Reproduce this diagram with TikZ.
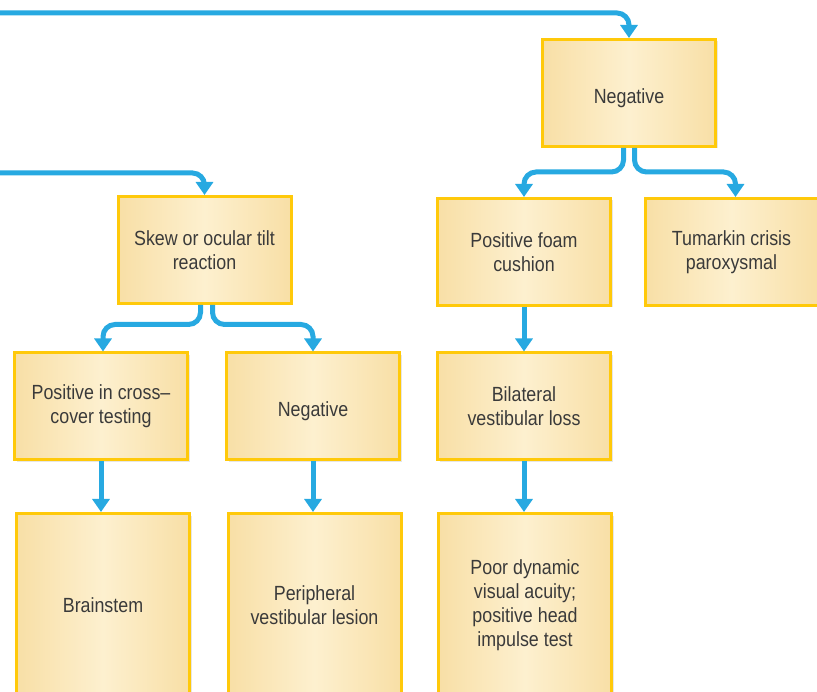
\documentclass[tikz,border=0pt]{standalone}
\usepackage{fontspec}
\setmainfont{Liberation Sans}[FakeStretch=0.87]
\usetikzlibrary{arrows.meta,shadows}
\definecolor{boxline}{HTML}{FFC90A}
\definecolor{boxedge}{HTML}{F8DFA6}
\definecolor{boxmid}{HTML}{FDF0CF}
\definecolor{linkblue}{HTML}{27A9E1}
\definecolor{boxtext}{HTML}{3A3A3A}
\tikzset{
	box/.style={draw=boxline, line width=3pt, left color=boxedge, right color=boxedge, middle color=boxmid,
		minimum width=173pt, minimum height=107pt, inner sep=0pt, align=center, text=boxtext,
		font=\fontsize{20.5}{24}\selectfont,
		drop shadow={opacity=0.2, shadow xshift=2pt, shadow yshift=-2pt}},
	tallbox/.style={box, minimum height=183pt},
	link/.style={draw=linkblue, line width=5pt, rounded corners=12pt, -{Triangle[width=17pt,length=13pt]}}
}
% text set a little lower than the box centre
\newcommand\lowtext[1]{\raisebox{-5pt}[\height][\depth]{#1}}

\begin{document}
\begin{tikzpicture}[x=1pt,y=-1pt]
				\useasboundingbox (0,0) rectangle (817,692);
				
				% first and second rows
				\node[box] (neg1) at (629,93) {\lowtext{Negative}};
				\node[box] (skew) at (204.5,250) {Skew or ocular tilt\\reaction};
				\node[box] (foam) at (524,252) {Positive foam\\cushion};
				\node[box] (tum) at (731.5,252) {Tumarkin crisis\\paroxysmal};
				
				% third row
				\node[box] (cross) at (101,406.5) {Positive in cross--\\cover testing};
				\node[box] (neg2) at (313,406.5) {\lowtext{Negative}};
				\node[box] (bilat) at (524,406.5) {Bilateral\\vestibular loss};
				
				% bottom row, cut off by the page
				\node[tallbox] (brain) at (103,605) {Brainstem};
				\node[tallbox] (peri) at (314.5,605) {Peripheral\\vestibular lesion};
				\node[tallbox] (poor) at (525,605) {Poor dynamic\\visual acuity;\\positive head\\impulse test};
				
				% lines coming in from the left
				\coordinate (topin) at (0,13);
				\coordinate (skewin) at (0,173);
				\draw[link] (topin) -| (neg1.north);
				\draw[link] (skewin) -| (skew.north);
				
				% splits
				\draw[link] ([xshift=-5.5pt]neg1.south) |- ([yshift=25pt]foam.north) -- (foam.north);
				\draw[link] ([xshift=5.5pt]neg1.south) |- ([xshift=4pt,yshift=25pt]tum.north) -- ([xshift=4pt]tum.north);
				\draw[link] ([xshift=-4pt]skew.south) |- ([xshift=2pt,yshift=27pt]cross.north) -- ([xshift=2pt]cross.north);
				\draw[link] ([xshift=8pt]skew.south) |- ([yshift=27pt]neg2.north) -- (neg2.north);
				
				% straight down
				\draw[link] (cross.south) -- (cross.south |- brain.north);
				\draw[link] (neg2.south) -- (neg2.south |- peri.north);
				\draw[link] (foam.south) -- (foam.south |- bilat.north);
				\draw[link] (bilat.south) -- (bilat.south |- poor.north);
\end{tikzpicture}
\end{document}
